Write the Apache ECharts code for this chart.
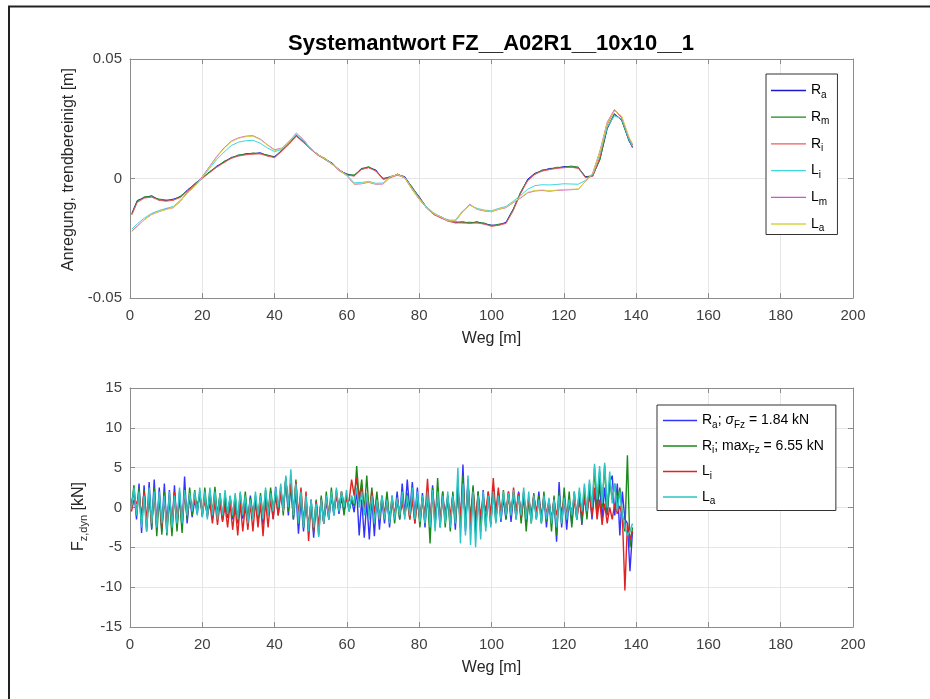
<!DOCTYPE html>
<html>
<head>
<meta charset="utf-8">
<title>Systemantwort FZ__A02R1__10x10__1</title>
<script src="https://cdn.jsdelivr.net/npm/echarts@6/dist/echarts.min.js"></script>
<style>
  html, body { margin: 0; padding: 0; background: #fff; }
  #chart { width: 930px; height: 699px; }
</style>
</head>
<body>
<div id="chart"></div>
<script>
// ---------- Anregung (trendbereinigt) [m] ----------
const wegAnr = [
  0.5, 2, 4, 6, 8, 10, 12, 14, 16, 18,
  20, 22, 24, 26, 28, 30, 32, 34, 36, 38,
  40, 42, 44, 46, 48, 50, 52, 54, 56, 58,
  60, 62, 64, 66, 68, 70, 72, 74, 76, 78,
  80, 82, 84, 86, 88, 90, 92, 94, 96, 98,
  100, 102, 104, 106, 108, 110, 112, 114, 116, 118,
  120, 122, 124, 126, 128, 130, 132, 134, 136, 138, 139
];
const anrRa = [
  -0.0146, -0.0092, -0.0080, -0.0072, -0.0090, -0.0093, -0.0086, -0.0077, -0.0046, -0.0024,
  0.0004, 0.0025, 0.0052, 0.0068, 0.0088, 0.0095, 0.0104, 0.0103, 0.0108, 0.0095,
  0.0092, 0.0116, 0.0148, 0.0178, 0.0155, 0.0123, 0.0101, 0.0080, 0.0064, 0.0032,
  0.0019, 0.0011, 0.0042, 0.0046, 0.0036, -0.0003, 0.0008, 0.0015, 0.0008, -0.0038,
  -0.0076, -0.0122, -0.0146, -0.0164, -0.0174, -0.0185, -0.0181, -0.0187, -0.0181, -0.0190,
  -0.0195, -0.0195, -0.0183, -0.0128, -0.0062, -0.0003, 0.0022, 0.0032, 0.0042, 0.0043,
  0.0050, 0.0048, 0.0044, 0.0008, 0.0010, 0.0082, 0.0208, 0.0268, 0.0247, 0.0158, 0.0132
];
const anrRm = [
  -0.0150, -0.0097, -0.0076, -0.0077, -0.0086, -0.0090, -0.0090, -0.0073, -0.0050, -0.0020,
  0.0001, 0.0029, 0.0048, 0.0072, 0.0085, 0.0099, 0.0100, 0.0107, 0.0104, 0.0099,
  0.0088, 0.0120, 0.0144, 0.0182, 0.0151, 0.0127, 0.0098, 0.0084, 0.0060, 0.0036,
  0.0015, 0.0015, 0.0038, 0.0050, 0.0032, 0.0001, 0.0004, 0.0019, 0.0004, -0.0034,
  -0.0080, -0.0118, -0.0150, -0.0160, -0.0178, -0.0181, -0.0185, -0.0183, -0.0185, -0.0186,
  -0.0199, -0.0191, -0.0187, -0.0132, -0.0058, -0.0007, 0.0018, 0.0036, 0.0038, 0.0047,
  0.0046, 0.0052, 0.0048, 0.0004, 0.0014, 0.0078, 0.0212, 0.0272, 0.0243, 0.0162, 0.0128
];
const anrRi = [
  -0.0152, -0.0100, -0.0082, -0.0078, -0.0091, -0.0095, -0.0091, -0.0079, -0.0052, -0.0025,
  0.0000, 0.0024, 0.0047, 0.0066, 0.0084, 0.0094, 0.0099, 0.0102, 0.0103, 0.0094,
  0.0087, 0.0114, 0.0143, 0.0177, 0.0150, 0.0122, 0.0097, 0.0079, 0.0059, 0.0031,
  0.0014, 0.0010, 0.0037, 0.0045, 0.0031, -0.0004, 0.0003, 0.0014, 0.0003, -0.0039,
  -0.0081, -0.0123, -0.0151, -0.0165, -0.0179, -0.0186, -0.0186, -0.0188, -0.0186, -0.0191,
  -0.0200, -0.0196, -0.0188, -0.0135, -0.0065, -0.0010, 0.0017, 0.0031, 0.0037, 0.0042,
  0.0045, 0.0047, 0.0043, 0.0003, 0.0009, 0.0090, 0.0225, 0.0285, 0.0255, 0.0170, 0.0140
];
const anrLi = [
  -0.0212, -0.0190, -0.0165, -0.0146, -0.0134, -0.0125, -0.0117, -0.0090, -0.0058, -0.0032,
  0.0003, 0.0042, 0.0080, 0.0110, 0.0138, 0.0152, 0.0158, 0.0160, 0.0148, 0.0128,
  0.0112, 0.0122, 0.0150, 0.0186, 0.0158, 0.0124, 0.0101, 0.0079, 0.0061, 0.0033,
  0.0014, -0.0018, -0.0017, -0.0012, -0.0020, -0.0019, 0.0008, 0.0016, 0.0004, -0.0041,
  -0.0083, -0.0118, -0.0144, -0.0160, -0.0174, -0.0174, -0.0136, -0.0112, -0.0125, -0.0132,
  -0.0135, -0.0125, -0.0117, -0.0095, -0.0072, -0.0045, -0.0030, -0.0026, -0.0027, -0.0025,
  -0.0022, -0.0023, -0.0024, -0.0008, 0.0018, 0.0105, 0.0215, 0.0262, 0.0250, 0.0165, 0.0135
];
const anrLm = [
  -0.0220, -0.0199, -0.0172, -0.0150, -0.0139, -0.0128, -0.0122, -0.0094, -0.0056, -0.0029,
  0.0008, 0.0050, 0.0092, 0.0128, 0.0156, 0.0170, 0.0177, 0.0179, 0.0165, 0.0141,
  0.0120, 0.0127, 0.0155, 0.0190, 0.0162, 0.0126, 0.0099, 0.0081, 0.0058, 0.0036,
  0.0011, -0.0024, -0.0022, -0.0016, -0.0024, -0.0023, 0.0005, 0.0018, 0.0002, -0.0045,
  -0.0087, -0.0122, -0.0148, -0.0163, -0.0178, -0.0178, -0.0140, -0.0108, -0.0129, -0.0136,
  -0.0139, -0.0129, -0.0122, -0.0101, -0.0082, -0.0060, -0.0052, -0.0050, -0.0053, -0.0050,
  -0.0048, -0.0047, -0.0045, -0.0012, 0.0022, 0.0115, 0.0235, 0.0288, 0.0258, 0.0172, 0.0142
];
const anrLa = [
  -0.0222, -0.0201, -0.0173, -0.0151, -0.0138, -0.0130, -0.0121, -0.0093, -0.0059, -0.0031,
  0.0005, 0.0047, 0.0089, 0.0126, 0.0154, 0.0168, 0.0175, 0.0177, 0.0163, 0.0140,
  0.0117, 0.0126, 0.0154, 0.0189, 0.0161, 0.0127, 0.0100, 0.0082, 0.0059, 0.0034,
  0.0012, -0.0023, -0.0021, -0.0014, -0.0023, -0.0021, 0.0006, 0.0017, 0.0003, -0.0044,
  -0.0086, -0.0121, -0.0147, -0.0161, -0.0177, -0.0177, -0.0139, -0.0111, -0.0128, -0.0135,
  -0.0138, -0.0128, -0.0121, -0.0100, -0.0080, -0.0058, -0.0050, -0.0048, -0.0051, -0.0049,
  -0.0046, -0.0045, -0.0044, -0.0011, 0.0021, 0.0112, 0.0232, 0.0283, 0.0262, 0.0175, 0.0145
];

// ---------- dynamische Radlast F_z,dyn [kN] ----------
const wegDyn = [
  0.4, 1.1, 1.8, 2.5, 3.2, 3.9, 4.6, 5.3, 6.0, 6.7,
  7.4, 8.1, 8.8, 9.5, 10.2, 10.9, 11.6, 12.3, 13.0, 13.7,
  14.4, 15.1, 15.8, 16.5, 17.2, 17.9, 18.6, 19.3, 20.0, 20.7,
  21.4, 22.1, 22.8, 23.5, 24.2, 24.9, 25.6, 26.3, 27.0, 27.7,
  28.4, 29.1, 29.8, 30.5, 31.2, 31.9, 32.6, 33.3, 34.0, 34.7,
  35.4, 36.1, 36.8, 37.5, 38.2, 38.9, 39.6, 40.3, 41.0, 41.7,
  42.4, 43.1, 43.8, 44.5, 45.2, 45.9, 46.6, 47.3, 48.0, 48.7,
  49.4, 50.1, 50.8, 51.5, 52.2, 52.9, 53.6, 54.3, 55.0, 55.7,
  56.4, 57.1, 57.8, 58.5, 59.2, 59.9, 60.6, 61.3, 62.0, 62.7,
  63.4, 64.1, 64.8, 65.5, 66.2, 66.9, 67.6, 68.3, 69.0, 69.7,
  70.4, 71.1, 71.8, 72.5, 73.2, 73.9, 74.6, 75.3, 76.0, 76.7,
  77.4, 78.1, 78.8, 79.5, 80.2, 80.9, 81.6, 82.3, 83.0, 83.7,
  84.4, 85.1, 85.8, 86.5, 87.2, 87.9, 88.6, 89.3, 90.0, 90.7,
  91.4, 92.1, 92.8, 93.5, 94.2, 94.9, 95.6, 96.3, 97.0, 97.7,
  98.4, 99.1, 99.8, 100.5, 101.2, 101.9, 102.6, 103.3, 104.0, 104.7,
  105.4, 106.1, 106.8, 107.5, 108.2, 108.9, 109.6, 110.3, 111.0, 111.7,
  112.4, 113.1, 113.8, 114.5, 115.2, 115.9, 116.6, 117.3, 118.0, 118.7,
  119.4, 120.1, 120.8, 121.5, 122.2, 122.9, 123.6, 124.3, 125.0, 125.7,
  126.4, 127.1, 127.8, 128.5, 129.2, 129.9, 130.6, 131.3, 132.0, 132.7,
  133.4, 134.1, 134.8, 135.5, 136.2, 136.9, 137.6, 138.3, 139.0
];
const dynRa = [
  0.5, 2.0, -1.5, 3.0, -3.2, 2.8, -2.5, 3.2, -2.8, 3.5,
  -2.6, 2.5, -3.0, 3.0, -2.7, 2.2, -3.0, 2.8, -2.5, 2.0,
  -2.8, 3.9, -2.0, 1.5, -1.2, 1.0, -0.8, 1.8, -1.0, 1.5,
  -1.2, 1.8, -1.5, 1.2, -0.8, 1.5, -1.6, 1.0, -1.3, 1.4,
  -1.5, 1.0, -2.0, 1.2, -1.4, 0.8, -1.8, 1.5, -1.2, 1.0,
  -1.5, 1.2, -2.2, 1.6, -1.0, 2.0, -1.4, 2.6, -0.8, 2.2,
  -0.5, 3.6, -1.0, 2.8, -1.5, 2.0, -3.3, 1.0, -3.0, 0.8,
  -2.8, 1.0, -3.8, 0.5, -2.5, 1.2, -2.0, 0.8, -1.5, 1.5,
  -1.0, 1.8, -0.8, 1.2, -0.5, 1.5, -0.3, 1.0, -0.6, 2.2,
  -3.5, 1.0, -3.8, 0.8, -4.0, 1.2, -3.6, 1.5, -2.8, 1.0,
  -2.0, 1.5, -2.5, 1.0, -1.2, 2.0, -1.5, 3.0, -1.0, 3.5,
  -0.5, 3.2, -1.2, 2.5, -2.0, 1.8, -2.5, 2.0, -2.8, 2.8,
  -2.0, 1.5, -2.5, 2.0, -1.8, 1.5, -2.2, 1.6, -2.8, 3.0,
  -2.5, 5.4, -3.0, 3.5, -2.8, 2.5, -3.3, 2.0, -2.5, 2.2,
  -2.0, 1.5, -2.2, 2.5, -1.5, 2.0, -1.8, 1.2, -1.5, 2.0,
  -1.8, 1.5, -1.2, 2.0, -1.5, 1.8, -2.0, 1.0, -1.6, 1.5,
  -1.2, 2.0, -1.8, 1.5, -2.5, 1.0, -2.0, 1.2, -4.3, 3.2,
  -2.5, 1.5, -2.8, 1.0, -2.0, 2.0, -1.5, 1.8, -2.2, 1.5,
  -1.0, 2.5, -1.5, 2.0, -0.8, 3.0, -1.5, 2.5, -1.0, 3.2,
  4.0, -1.0, 3.0, -3.5, 2.0, -1.5, -2.0, -8.0, -3.0
];
const dynRi = [
  0.2, 2.8, -1.0, 2.5, -2.0, 2.2, -3.0, 2.0, -2.6, 2.5,
  -3.6, 1.5, -3.4, 2.0, -3.5, 1.2, -3.6, 1.8, -3.0, 1.5,
  -3.2, 2.0, -1.5, 2.5, -1.0, 2.2, -0.5, 2.0, -1.2, 2.5,
  -1.0, 2.2, -0.8, 2.6, -1.2, 1.8, -1.5, 1.5, -1.0, 1.2,
  -1.2, 1.5, -1.8, 1.8, -1.0, 2.0, -1.5, 1.2, -1.0, 1.5,
  -1.5, 1.8, -1.2, 2.2, -0.8, 2.5, -0.5, 2.0, -1.0, 2.6,
  -1.0, 3.8, -0.5, 3.0, -1.5, 3.5, -2.0, 2.0, -2.5, 1.0,
  -2.5, 0.8, -3.0, 1.0, -3.5, 1.5, -2.0, 2.0, -1.5, 2.5,
  -0.8, 2.2, -0.5, 2.0, -1.0, 1.5, -0.5, 1.0, 0.2, 5.2,
  1.0, 3.5, -0.5, 4.0, -1.0, 2.5, -1.0, 2.0, -1.5, 1.5,
  -1.0, 2.0, -1.8, 1.5, -2.0, 1.0, -1.5, 1.2, -1.0, 1.8,
  -1.5, 2.0, -2.0, 1.5, -2.5, 1.2, -2.0, 1.8, -4.5, 2.5,
  -2.5, 3.7, -2.0, 2.0, -2.5, 1.5, -3.0, 2.0, -2.0, 2.5,
  -2.5, 4.0, -2.5, 3.0, -1.5, 2.8, -2.0, 2.0, -3.0, 1.5,
  -2.5, 2.0, -2.0, 2.5, -1.8, 1.8, -1.0, 2.2, -1.5, 1.5,
  -1.0, 2.0, -1.5, 1.8, -2.0, 1.5, -3.0, 1.2, -2.0, 1.8,
  -1.5, 1.5, -2.0, 2.0, -1.8, 1.0, -3.0, 1.5, -3.5, 2.0,
  -2.0, 2.5, -1.5, 2.0, -2.5, 1.2, -1.0, 2.0, -2.0, 2.5,
  -1.5, 3.0, -1.0, 5.0, -0.5, 4.5, 0.0, 5.3, -0.8, 3.5,
  1.0, 3.0, 0.5, 2.5, -1.0, -3.0, 6.55, -5.0, -2.5
];
const dynLi = [
  -0.5, 1.0, 0.5, 1.5, -1.0, 2.0, -1.5, 1.2, -2.0, 1.5,
  -2.0, 1.5, -2.5, 1.0, -2.2, 1.5, -2.0, 2.0, -1.8, 1.2,
  -1.5, 1.8, -1.0, 1.5, -0.5, 1.0, 0.5, 1.2, -0.5, 0.8,
  -1.0, 0.5, -2.0, 0.8, -2.2, 0.5, -1.8, 0.2, -2.5, 0.5,
  -2.8, 0.2, -3.5, 0.5, -3.0, 0.3, -2.8, 0.5, -3.0, 0.8,
  -2.5, 0.5, -3.6, 0.8, -2.5, 1.0, -1.5, 1.5, -1.0, 2.0,
  -0.5, 3.5, 0.5, 3.0, -0.5, 3.2, -1.0, 2.5, -2.0, 2.0,
  -4.2, 0.5, -3.0, 0.8, -2.5, 1.0, -2.0, 1.2, -1.0, 1.5,
  -0.5, 1.5, 0.0, 2.0, 0.5, 1.0, 0.8, 3.5, 1.5, 3.8,
  0.5, 2.5, -0.5, 1.5, -1.0, 2.0, -0.5, 1.0, -1.5, 1.2,
  -1.0, 0.8, -1.5, 1.0, -1.0, 1.3, -0.8, 0.5, -1.0, 0.8,
  -1.5, 1.0, -2.0, 0.8, -1.5, 1.2, -1.0, 3.6, -1.5, 2.0,
  -1.0, 1.5, -1.5, 1.0, -0.5, 1.2, -1.0, 1.5, -1.5, 2.0,
  -1.0, 2.5, -1.5, 3.0, -2.0, 2.0, -1.5, 1.5, -1.0, 1.2,
  -0.5, 2.0, -1.0, 3.7, -0.8, 2.5, -1.0, 1.5, -0.5, 2.0,
  -1.0, 2.5, -0.5, 1.8, -1.2, 2.0, -1.0, 1.2, -0.8, 1.5,
  -0.5, 1.0, -1.0, 1.2, -0.8, 0.8, -1.5, 1.0, -1.0, 0.8,
  -0.5, 1.0, -1.0, 0.5, -0.5, 1.0, -1.5, 0.8, -1.0, 1.0,
  -0.5, 1.5, -1.0, 2.5, -1.5, 1.0, -2.2, 0.5, -2.0, 0.0,
  -1.5, 0.5, -0.8, 0.2, -1.0, -10.4, -2.0, -4.0, -3.0
];
const dynLa = [
  0.0, 2.5, -1.0, 2.0, -2.5, 1.5, -3.0, 2.5, -2.0, 2.0,
  -2.5, 2.0, -2.0, 1.5, -3.2, 2.0, -2.5, 1.5, -2.0, 2.5,
  -2.0, 2.2, -1.0, 1.8, -0.5, 2.0, -1.0, 2.5, -1.2, 2.0,
  -1.5, 2.5, -1.0, 2.0, -1.5, 1.8, -1.0, 2.2, -0.8, 1.5,
  -1.0, 1.8, -1.5, 2.0, -1.0, 1.5, -2.0, 1.0, -1.5, 2.0,
  -1.0, 1.5, -1.5, 2.5, -1.0, 1.8, -0.5, 2.5, 0.0, 3.0,
  -0.5, 4.0, 0.0, 4.8, -1.0, 3.0, -2.0, 2.0, -2.5, 1.5,
  -3.0, 1.0, -2.5, 0.5, -3.7, 1.0, -2.0, 1.5, -1.5, 2.0,
  -1.0, 2.5, -0.5, 2.0, 0.0, 2.2, -0.5, 1.5, 0.5, 2.5,
  0.0, 2.0, -1.0, 1.8, -1.5, 1.5, -2.0, 1.0, -1.5, 1.5,
  -1.5, 1.0, -2.0, 1.5, -1.5, 1.2, -1.0, 2.0, -1.5, 1.5,
  -1.0, 2.5, -1.5, 2.0, -1.8, 1.5, -2.0, 2.0, -2.5, 2.2,
  -3.0, 2.0, -2.5, 1.5, -2.0, 2.0, -2.5, 1.5, -2.0, 5.0,
  -4.5, 3.0, -3.5, 4.0, -4.7, 2.0, -5.0, 1.5, -4.0, 2.0,
  -3.0, 1.5, -2.5, 2.0, -2.0, 1.5, -1.5, 2.0, -1.0, 1.8,
  -1.0, 2.2, -1.5, 1.5, -1.0, 2.5, -1.5, 2.0, -2.0, 1.5,
  -1.5, 1.0, -2.0, 1.5, -1.5, 1.2, -2.0, 1.0, -2.5, 1.5,
  -2.0, 1.2, -1.5, 1.0, -1.0, 2.0, -1.5, 2.5, -0.5, 3.0,
  -0.5, 3.5, 0.0, 5.5, 1.0, 5.2, 0.5, 5.6, 0.0, 4.5,
  0.5, 3.0, -0.5, 2.0, -1.0, -2.5, -3.5, -3.0, -2.0
];

// axis tick values
const wegTicks = { min: 0, max: 200, step: 20 };
const anrTicks = { min: -0.05, max: 0.05, step: 0.05 };
const dynTicks = { min: -15, max: 15, step: 5 };

// legend labels (rich text with subscripts)
const legendLabels = {
  'Ra': '{m|R}{s|a}', 'Rm': '{m|R}{s|m}', 'Ri': '{m|R}{s|i}',
  'Li': '{m|L}{s|i}', 'Lm': '{m|L}{s|m}', 'La': '{m|L}{s|a}',
  'Ra Fz': '{m|R}{s|a}{m|; }{g|\u03c3}{s|Fz}{m| = 1.84 kN}',
  'Ri Fz': '{m|R}{s|i}{m|; max}{s|Fz}{m| = 6.55 kN}',
  'Li Fz': '{m|L}{s|i}',
  'La Fz': '{m|L}{s|a}'
};

const FONT = '"Liberation Sans", Arial, Helvetica, sans-serif';
const AXIS_COLOR = '#8c8c8c';
const GRID_COLOR = '#e6e6e6';
const LABEL_COLOR = '#404040';

const pairs = (xs, ys) => ys.map((y, i) => [xs[i], y]);

function xAxes(gridIndex) {
  const base = {
    gridIndex, type: 'value', min: wegTicks.min, max: wegTicks.max, interval: wegTicks.step,
    axisLine: { show: true, onZero: false, lineStyle: { color: AXIS_COLOR, width: 1 } },
    axisTick: { show: true, inside: true, length: 5, lineStyle: { color: AXIS_COLOR } }
  };
  return [
    Object.assign({}, base, {
      position: 'bottom',
      axisLabel: { margin: 10, fontSize: 15, color: LABEL_COLOR, fontFamily: FONT },
      splitLine: { show: true, lineStyle: { color: GRID_COLOR, width: 1 } },
      name: 'Weg [m]', nameLocation: 'middle', nameGap: 33,
      nameTextStyle: { fontSize: 16, color: '#262626', fontFamily: FONT }
    }),
    Object.assign({}, base, {
      position: 'top', axisLabel: { show: false }, splitLine: { show: false }
    })
  ];
}

function yAxes(gridIndex, ticks, name, nameGap, nameStyle) {
  const base = {
    gridIndex, type: 'value', min: ticks.min, max: ticks.max, interval: ticks.step,
    axisLine: { show: true, onZero: false, lineStyle: { color: AXIS_COLOR, width: 1 } },
    axisTick: { show: true, inside: true, length: 5, lineStyle: { color: AXIS_COLOR } }
  };
  return [
    Object.assign({}, base, {
      position: 'left',
      axisLabel: { margin: 8, fontSize: 15, color: LABEL_COLOR, fontFamily: FONT },
      splitLine: { show: true, lineStyle: { color: GRID_COLOR, width: 1 } },
      name, nameLocation: 'middle', nameGap, nameRotate: 90,
      nameTextStyle: Object.assign({ fontSize: 16, color: '#262626', fontFamily: FONT }, nameStyle || {})
    }),
    Object.assign({}, base, {
      position: 'right', axisLabel: { show: false }, splitLine: { show: false }
    })
  ];
}

const legendRich = {
  m: { fontSize: 14, color: '#000', fontFamily: FONT, lineHeight: 16 },
  g: { fontSize: 14, color: '#000', fontFamily: FONT, fontStyle: 'italic', lineHeight: 16 },
  s: { fontSize: 10, color: '#000', fontFamily: FONT, lineHeight: 12, padding: [9, 0, 0, 0] }
};

function topLine(name, data, color) {
  return {
    name, type: 'line', xAxisIndex: 0, yAxisIndex: 0, data: pairs(wegAnr, data),
    showSymbol: false, symbol: 'none', color, lineStyle: { color, width: 1 }, animation: false
  };
}
function dynLine(name, data, color) {
  return {
    name, type: 'line', xAxisIndex: 2, yAxisIndex: 2, data: pairs(wegDyn, data),
    showSymbol: false, symbol: 'none', color, lineStyle: { color, width: 1.4 }, animation: false
  };
}

const chart = echarts.init(document.getElementById('chart'), null, { renderer: 'canvas' });
chart.setOption({
  animation: false,
  backgroundColor: '#ffffff',
  textStyle: { fontFamily: FONT },
  grid: [
    { left: 130, top: 59, width: 723, height: 239, containLabel: false },
    { left: 130, top: 388, width: 723, height: 239, containLabel: false }
  ],
  xAxis: [].concat(xAxes(0), xAxes(1)),
  yAxis: [].concat(
    yAxes(0, anrTicks, 'Anregung, trendbereinigt [m]', 46, { padding: [0, 0, 0, 18] }),
    yAxes(1, dynTicks, '{m|F}{s|z,dyn}{m| [kN]}', 40, {
      padding: [0, 18, 0, 0],
      rich: {
        m: { fontSize: 16, color: '#262626', fontFamily: FONT, lineHeight: 18 },
        s: { fontSize: 11, color: '#262626', fontFamily: FONT, lineHeight: 13, padding: [10, 0, 0, 0] }
      }
    })
  ),
  legend: [
    {
      data: ['Ra', 'Rm', 'Ri', 'Li', 'Lm', 'La'],
      orient: 'vertical', left: 766, top: 74,
      icon: 'rect', itemWidth: 35, itemHeight: 1.3, itemGap: 7.7, selectedMode: false,
      padding: [7, 8, 1, 5],
      backgroundColor: '#fff', borderColor: '#333', borderWidth: 1,
      formatter: (n) => legendLabels[n], textStyle: { rich: legendRich }
    },
    {
      data: ['Ra Fz', 'Ri Fz', 'Li Fz', 'La Fz'],
      orient: 'vertical', left: 657, top: 405,
      icon: 'rect', itemWidth: 34, itemHeight: 1.3, itemGap: 6.5, selectedMode: false,
      padding: [6, 12, 4, 6],
      backgroundColor: '#fff', borderColor: '#333', borderWidth: 1,
      formatter: (n) => legendLabels[n], textStyle: { rich: legendRich }
    }
  ],
  graphic: [
    {
      type: 'polyline', silent: true, z: 100,
      shape: { points: [[9, 699], [9, 6.5], [930, 6.5]] },
      style: { stroke: '#222', lineWidth: 2, fill: null }
    },
    {
      type: 'text', silent: true, z: 100, x: 491, y: 44,
      style: {
        text: 'Systemantwort FZ__A02R1__10x10__1', fill: '#000',
        font: 'bold 22px ' + FONT, textAlign: 'center', textVerticalAlign: 'middle'
      }
    }
  ],
  series: [
    topLine('Ra', anrRa, '#1a1acc'),
    topLine('Rm', anrRm, '#1a8a1a'),
    topLine('Ri', anrRi, '#f05a5a'),
    topLine('Li', anrLi, '#3fd6de'),
    topLine('Lm', anrLm, '#dc4adc'),
    topLine('La', anrLa, '#d6d640'),
    dynLine('Ra Fz', dynRa, '#3333ff'),
    dynLine('Ri Fz', dynRi, '#1a8a1a'),
    dynLine('Li Fz', dynLi, '#e02222'),
    dynLine('La Fz', dynLa, '#2ec4c4')
  ]
});
</script>
</body>
</html>
